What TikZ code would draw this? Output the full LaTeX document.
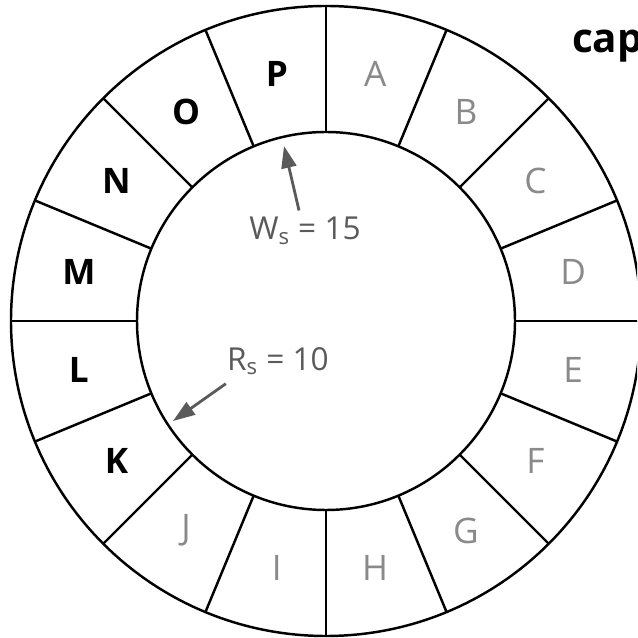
\documentclass[tikz,border=0pt]{standalone}
\usepackage{fontspec}
\setmainfont{Open Sans}
\usepackage{xcolor}
\usepackage{tikz}
\usetikzlibrary{arrows.meta,positioning,calc}
\definecolor{lettergray}{HTML}{8A8A8A}
\definecolor{notegray}{HTML}{5A5A5A}

\begin{document}
\begin{tikzpicture}[
    x=0.02cm, y=0.02cm,
    ring/.style={draw=black, line width=1.4pt},
    lt/.style={font=\fontsize{20}{23}\selectfont, text=lettergray},
    lb/.style={font=\fontsize{20}{23}\selectfont\bfseries, text=black},
    note/.style={font=\fontsize{18}{21}\selectfont, text=notegray, inner sep=2pt},
    arr/.style={-{Triangle[length=0.44cm, width=0.3cm]}, line width=1.6pt, draw=notegray}
]
    \useasboundingbox (-326,-317) rectangle (311,321);
    \clip (-326,-317) rectangle (311,321);
    \fill [white] (-326,-317) rectangle (311,321);

    \draw [ring] (0,0) circle (315);
    \draw [ring] (0,0) circle (189);
    \foreach \a in {0,22.5,...,337.5}
        \draw [ring] (\a:189) -- (\a:315);

    \foreach \t/\a in {A/78.75, B/56.25, C/33.75, D/11.25, E/-11.25, F/-33.75, G/-56.25, H/-78.75, I/-101.25, J/-123.75}
        \node [lt] (seg\t) at (\a:252) {\t};
    \foreach \t/\a in {K/-146.25, L/-168.75, M/168.75, N/146.25, O/123.75, P/101.25}
        \node [lb] (seg\t) at (\a:252) {\t};

    \node [lb, font=\fontsize{23}{26}\selectfont\bfseries, anchor=base west] (cap) at (240,268) {cap};

    \node [note] (ws) at (-21,90) {W\textsubscript{s} = 15};
    \node [note] (rs) at (-48,-40) {R\textsubscript{s} = 10};
    \coordinate (wstip) at (-42,175);
    \coordinate (rstip) at (-153,-100);

    \draw [arr] ([xshift=-0.12cm, yshift=0.06cm]ws.north) -- (wstip);
    \draw [arr] ([xshift=0.05cm, yshift=-0.1cm]rs.south west) -- (rstip);
\end{tikzpicture}
\end{document}
